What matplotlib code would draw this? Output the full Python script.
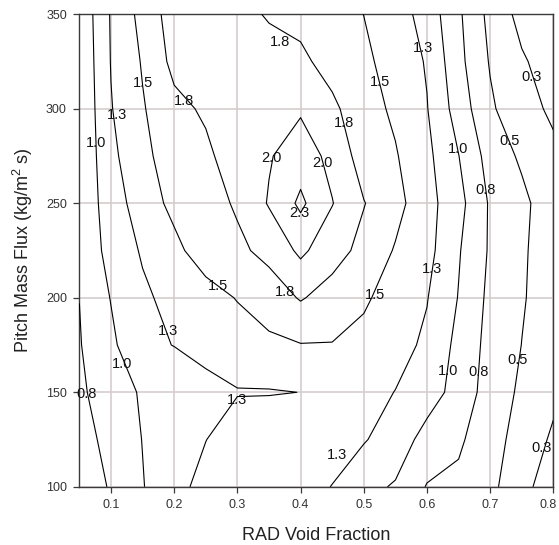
import numpy as np
import matplotlib
matplotlib.use("Agg")
import matplotlib.pyplot as plt
import matplotlib.transforms as mtransforms

# ---- data ----
void_fraction = [0.05, 0.10, 0.15, 0.20, 0.25, 0.30, 0.35, 0.40,
                 0.45, 0.50, 0.55, 0.60, 0.65, 0.70, 0.75, 0.80]
mass_flux = [100, 125, 150, 175, 200, 225, 250, 275, 300, 325, 350]

z_100 = [0.55, 0.78, 0.99, 1.15, 1.35, 1.42, 1.45, 1.40, 1.24, 1.06, 0.98, 0.735, 0.68, 0.55, 0.36, 0.05]
z_125 = [0.62, 0.85, 1.005, 1.13, 1.245, 1.40, 1.45, 1.48, 1.42, 1.27, 1.12, 0.92, 0.80, 0.55, 0.45, 0.20]
z_150 = [0.71, 0.87, 1.03, 1.10, 1.17, 1.235, 1.235, 1.252, 1.38, 1.33, 1.245, 1.10, 0.92, 0.63, 0.46, 0.32]
z_175 = [0.735, 0.95, 1.20, 1.255, 1.33, 1.40, 1.45, 1.49, 1.49, 1.46, 1.33, 1.21, 0.93, 0.67, 0.497, 0.37]
z_200 = [0.752, 1.01, 1.20, 1.34, 1.42, 1.51, 1.62, 1.77, 1.65, 1.52, 1.44, 1.26, 0.99, 0.69, 0.52, 0.38]
z_225 = [0.86, 1.06, 1.28, 1.45, 1.60, 1.70, 1.82, 2.05, 1.85, 1.68, 1.48, 1.33, 1.02, 0.72, 0.53, 0.38]
z_250 = [0.85, 1.10, 1.40, 1.55, 1.65, 1.78, 2.02, 2.30, 2.01, 1.76, 1.58, 1.34, 1.08, 0.72, 0.56, 0.35]
z_275 = [0.79, 1.18, 1.47, 1.56, 1.70, 1.88, 1.98, 2.13, 1.93, 1.64, 1.52, 1.31, 1.005, 0.65, 0.46, 0.29]
z_300 = [0.77, 1.237, 1.48, 1.68, 1.786, 1.85, 1.92, 1.97, 1.80, 1.60, 1.457, 1.26, 0.89, 0.54, 0.32, 0.217]
z_325 = [0.78, 1.26, 1.52, 1.82, 1.87, 1.90, 1.88, 1.80, 1.66, 1.55, 1.40, 1.23, 0.82, 0.48, 0.28, 0.13]
z_350 = [0.80, 1.27, 1.58, 1.87, 1.90, 1.85, 1.72, 1.68, 1.60, 1.498, 1.37, 1.15, 0.79, 0.43, 0.17, 0.10]

levels = [0.25, 0.5, 0.75, 1.0, 1.25, 1.5, 1.75, 2.0, 2.25]
level_labels = ["0.3", "0.5", "0.8", "1.0", "1.3", "1.5", "1.8", "2.0", "2.3"]

# contour label placements: (level index, x, y)
label_level = [3, 4, 5, 6, 6, 5, 6, 7, 7, 8, 4, 0, 3, 1, 2,
               5, 4, 3, 2, 4, 6, 5, 4, 4, 3, 2, 1, 0]
label_x = [0.077, 0.109, 0.151, 0.216, 0.367, 0.526, 0.468, 0.354, 0.434, 0.398, 0.594, 0.765, 0.649, 0.731, 0.692,
           0.269, 0.190, 0.117, 0.0615, 0.299, 0.375, 0.518, 0.457, 0.608, 0.633, 0.681, 0.743, 0.781]
label_y = [281.7, 296.7, 313.8, 304.3, 335.2, 314.3, 292.3, 274.1, 271.5, 245.0, 332.0, 317.0, 278.6, 283.0, 257.0,
           206.4, 182.4, 165.0, 148.9, 145.9, 203.2, 201.5, 116.8, 215.2, 161.3, 160.6, 167.0, 120.4]

x_ticks = [0.1, 0.2, 0.3, 0.4, 0.5, 0.6, 0.7, 0.8]
y_ticks = [100, 150, 200, 250, 300, 350]

# ---- plotting ----
plt.rcParams['font.family'] = ['Liberation Sans', 'DejaVu Sans']
plt.rcParams['mathtext.fontset'] = 'custom'
plt.rcParams['mathtext.rm'] = 'Liberation Sans'
plt.rcParams['mathtext.it'] = 'Liberation Sans'

Z = np.array([z_100, z_125, z_150, z_175, z_200, z_225,
              z_250, z_275, z_300, z_325, z_350])
X, Y = np.meshgrid(void_fraction, mass_flux)

fig = plt.figure(figsize=(5.59, 5.45), dpi=100)
ax = fig.add_axes([0.1420, 0.1068, 0.848, 0.867])

ax.contour(X, Y, Z, levels=levels, colors='black', linewidths=0.8, zorder=3)

for li, lx, ly in zip(label_level, label_x, label_y):
    ax.text(lx, ly, level_labels[li], ha='center', va='center',
            fontsize=10.5, color='#111111', zorder=4)

ax.set_xlim(0.05, 0.8)
ax.set_ylim(100, 350)
ax.set_xticks(x_ticks)
ax.set_xticklabels([f"{v:.1f}" for v in x_ticks])
ax.set_yticks(y_ticks)
ax.set_yticklabels([str(v) for v in y_ticks])

ax.set_axisbelow(True)
ax.grid(True, color='#d5cdcd', linewidth=1.2)

for s in ax.spines.values():
    s.set_color('#3a3a3a')
    s.set_linewidth(1.0)

ax.tick_params(direction='out', length=4, width=0.9, color='#3a3a3a',
               labelsize=9, labelcolor='#333333', pad=5)

# keep the last x tick label inside the figure
last = ax.get_xticklabels()[-1]
last.set_transform(last.get_transform() +
                   mtransforms.ScaledTranslation(-5 / 100, 0, fig.dpi_scale_trans))

ax.set_xlabel('RAD Void Fraction', fontsize=13, color='#222222')
ax.set_ylabel('Pitch Mass Flux (kg/m$^{2}$ s)', fontsize=13, color='#222222')
ax.xaxis.set_label_coords(0.5, -0.104)
ax.xaxis.label.set_va('center')
ax.yaxis.set_label_coords(-0.119, 0.5)
ax.yaxis.label.set_va('center')

fig.savefig('out.png', dpi=100)
